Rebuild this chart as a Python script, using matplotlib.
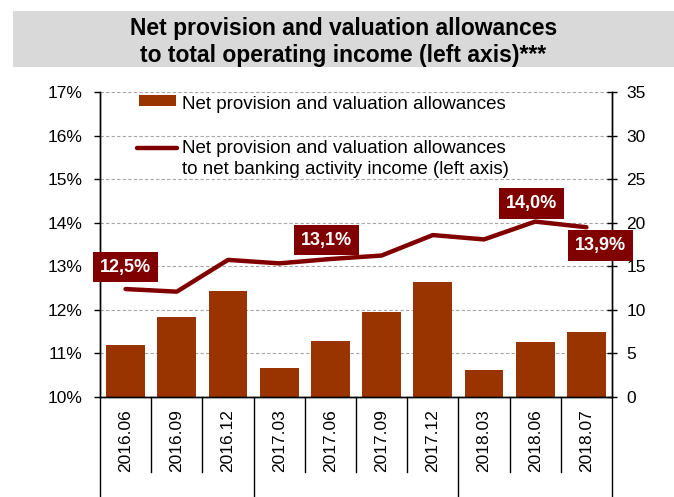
import matplotlib
matplotlib.use('Agg')
import matplotlib.pyplot as plt
from matplotlib.patches import Rectangle
from matplotlib.lines import Line2D

plt.rcParams['font.family'] = ['Liberation Sans', 'DejaVu Sans']

# data
periods = ['2016.06', '2016.09', '2016.12', '2017.03', '2017.06',
           '2017.09', '2017.12', '2018.03', '2018.06', '2018.07']
allowances = [6.0, 9.2, 12.2, 3.3, 6.4, 9.8, 13.2, 3.1, 6.3, 7.5]
ratio = [12.48, 12.42, 13.15, 13.07, 13.17, 13.25, 13.72, 13.62, 14.03, 13.90]
label_idx = [0, 4, 8, 9]
label_txt = ['12,5%', '13,1%', '14,0%', '13,9%']
year_sizes = [3, 4, 3]
left_ticks = [10, 11, 12, 13, 14, 15, 16, 17]
right_ticks = [0, 5, 10, 15, 20, 25, 30, 35]

title = 'Net provision and valuation allowances\nto total operating income (left axis)***'
bar_label = 'Net provision and valuation allowances'
line_label = ['Net provision and valuation allowances',
              'to net banking activity income (left axis)']

bar_col = '#993300'
line_col = '#800000'

# label offsets in pixels (dx, dy)
label_off = [(0, 22), (-4, 19), (-4, 18), (14, -18)]

fig = plt.figure(figsize=(6.74, 4.97), dpi=100)

# title box
fig.patches.append(Rectangle((0.0193, 0.8646), 1.0, 0.1139, transform=fig.transFigure,
                             facecolor='#d9d9d9', edgecolor='none', zorder=0))
fig.text(0.5096, 0.916, title, ha='center', va='center', fontsize=16.5,
         fontweight='bold', linespacing=1.2)

ax = fig.add_axes([0.14837, 0.20121, 0.75964, 0.61308])
ax2 = ax.twinx()
ax.set_zorder(ax2.get_zorder() + 1)
ax.patch.set_visible(False)

x = list(range(len(periods)))

# bars on the right axis
ax2.bar(x, allowances, width=0.76, color=bar_col, zorder=2)
ax2.set_ylim(0, 35)
ax2.set_yticks(right_ticks)
ax2.set_yticklabels([str(t) for t in right_ticks], fontsize=12.5)
ax2.yaxis.grid(True, color='#a6a6a6', linestyle=(0, (3, 2)), linewidth=0.8)
ax2.set_axisbelow(True)
ax2.tick_params(axis='y', direction='inout', length=7, width=1, pad=7)

# line on the left axis
ax.plot(x, ratio, color=line_col, linewidth=3.2, solid_capstyle='round',
        solid_joinstyle='round', zorder=3)
ax.set_ylim(10, 17)
ax.set_yticks(left_ticks)
ax.set_yticklabels([f'{t}%' for t in left_ticks], fontsize=12.5)
ax.tick_params(axis='y', direction='out', length=4.5, width=1, pad=8)
ax.set_xlim(-0.5, len(periods) - 0.5)
ax.set_xticks(x)
ax.set_xticklabels(periods, rotation=90, fontsize=12.5)
ax.tick_params(axis='x', length=0, pad=9)

for a in (ax, ax2):
    a.spines['top'].set_visible(False)
    for s in ('left', 'right', 'bottom'):
        a.spines[s].set_linewidth(1)
        a.spines[s].set_color('black')

# value labels
for i, t, (dx, dy) in zip(label_idx, label_txt, label_off):
    ax.annotate(t, xy=(x[i], ratio[i]), xytext=(dx, dy),
                textcoords='offset pixels', ha='center', va='center',
                fontsize=13, fontweight='bold', color='white', zorder=5,
                bbox=dict(boxstyle='square,pad=0.38', fc=line_col, ec='none'))

# separators under the category axis
tr = ax.get_xaxis_transform()
bounds = [-0.5]
for n in year_sizes:
    bounds.append(bounds[-1] + n)
for b in range(len(periods) + 1):
    pos = b - 0.5
    low = -0.33 if pos in bounds else -0.246
    ax.plot([pos, pos], [0, low], transform=tr, color='black', linewidth=1,
            clip_on=False, zorder=4)

# legend drawn by hand
ax.add_patch(Rectangle((0.0762, 0.9563), 0.0723, 0.0348, transform=ax.transAxes,
                       facecolor=bar_col, edgecolor='none', clip_on=False))
ax.text(0.1596, 0.9436, bar_label, transform=ax.transAxes, fontsize=13.5,
        va='baseline', ha='left')
ax.add_line(Line2D([0.0723, 0.1504], [0.8162, 0.8162], transform=ax.transAxes,
                   color=line_col, linewidth=3.2, solid_capstyle='round'))
ax.text(0.1596, 0.8008, line_label[0], transform=ax.transAxes, fontsize=13.5,
        va='baseline', ha='left')
ax.text(0.1596, 0.7319, line_label[1], transform=ax.transAxes, fontsize=13.5,
        va='baseline', ha='left')

fig.savefig('out.png', dpi=100)
